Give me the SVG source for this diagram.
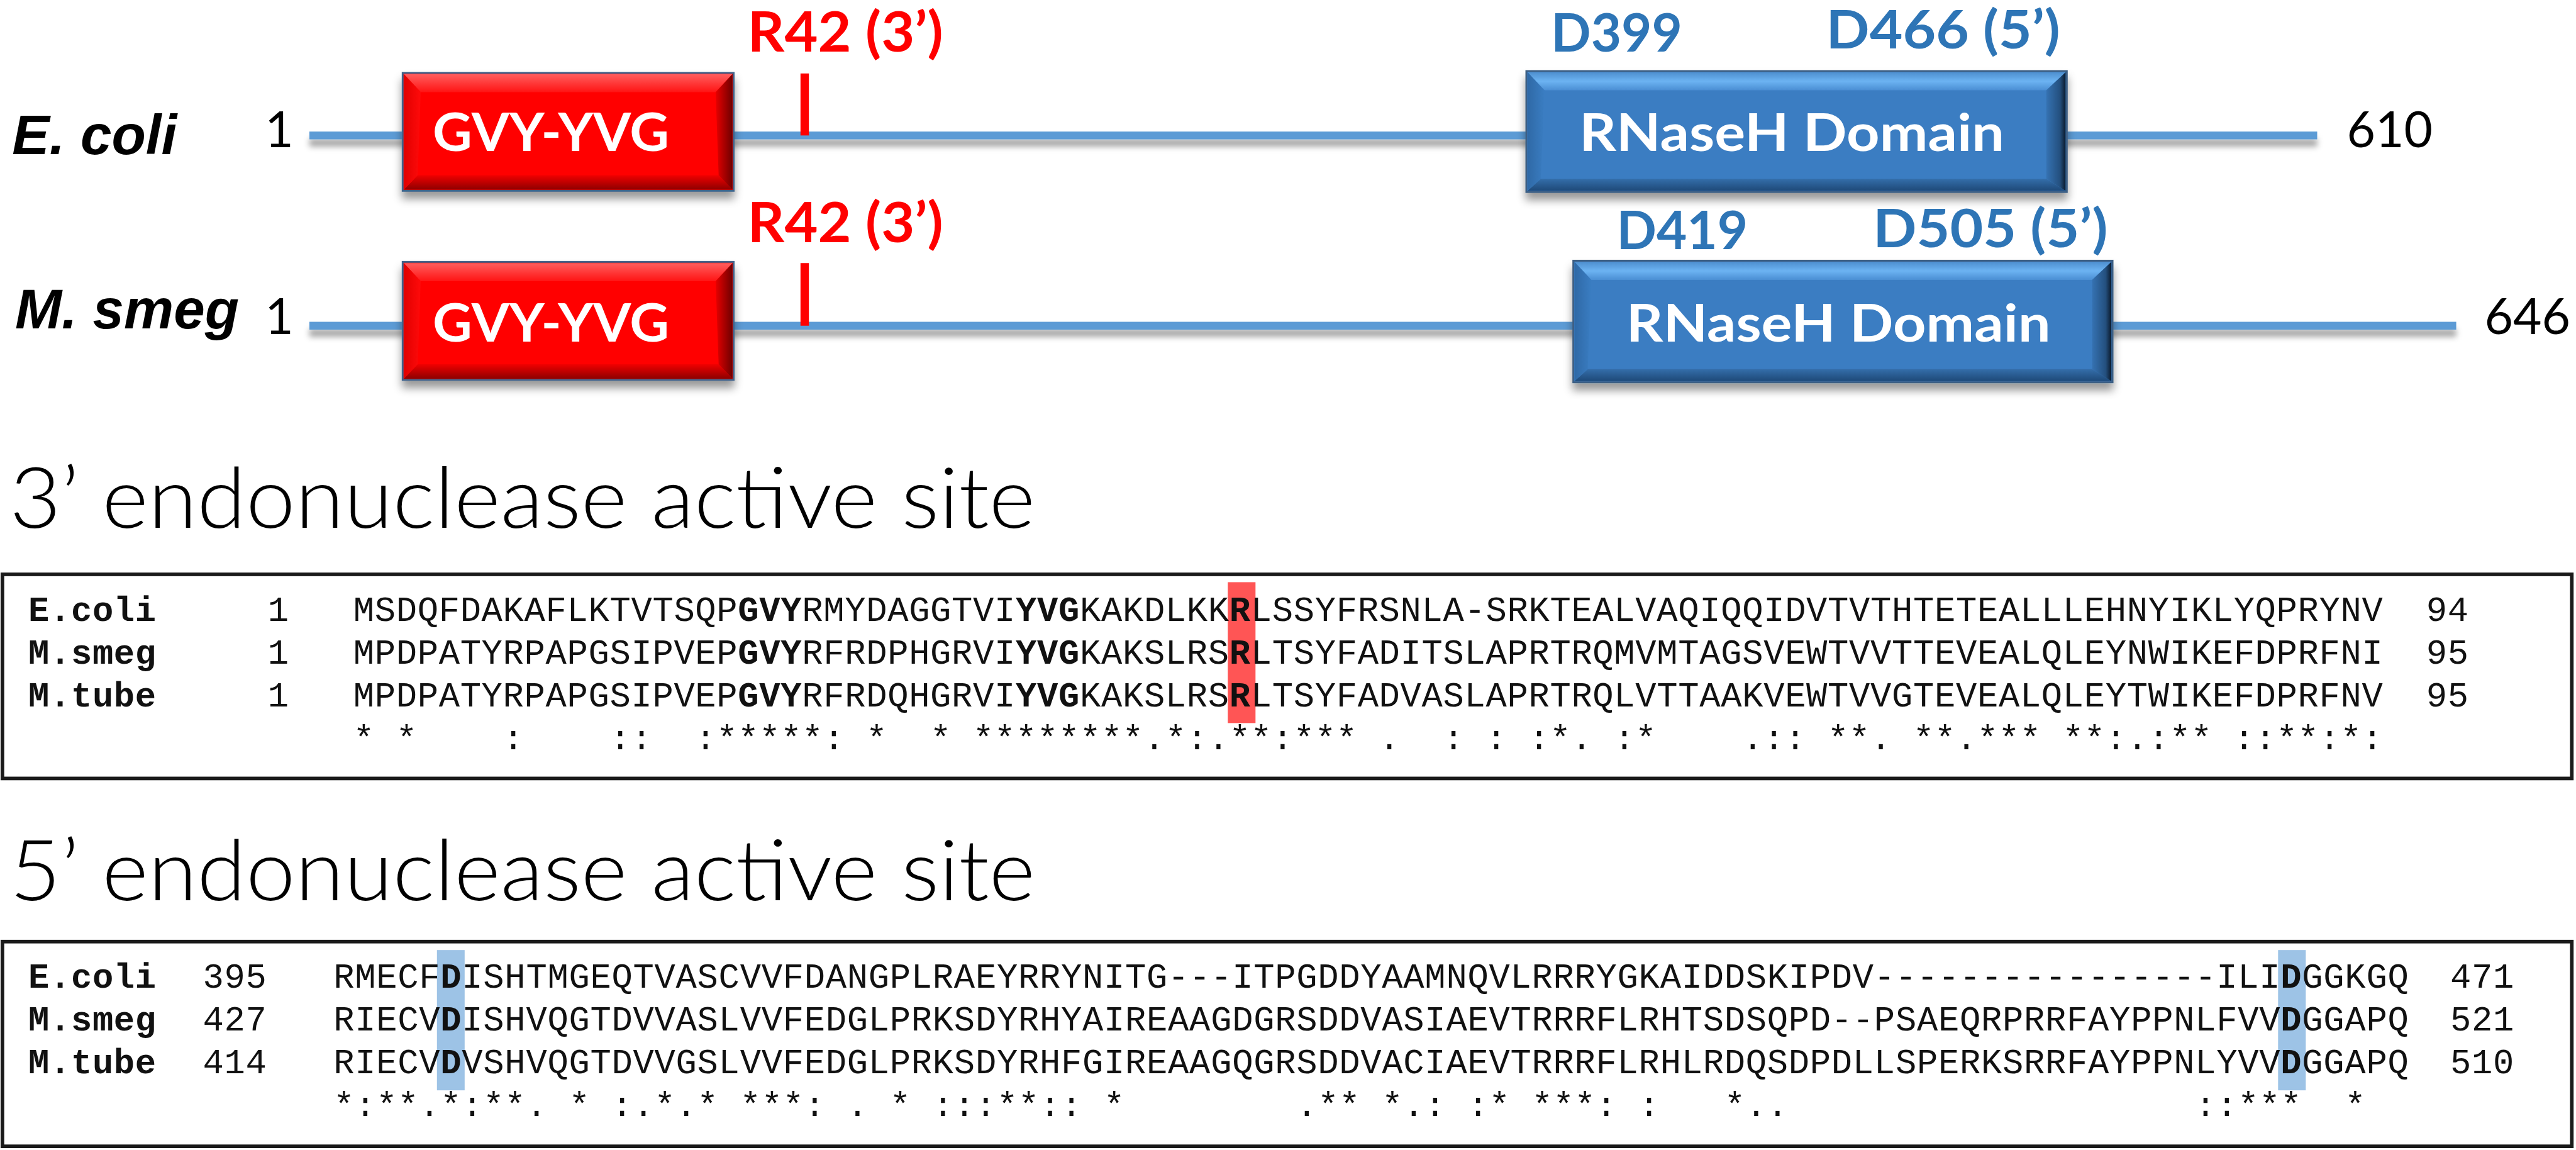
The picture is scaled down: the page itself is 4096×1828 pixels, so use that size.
<svg xmlns="http://www.w3.org/2000/svg" width="4096" height="1828" viewBox="0 0 4096 1828">
<defs>
<style>
.species{font-family:"Liberation Sans",Arial,sans-serif;font-weight:bold;font-style:italic;font-size:93px;fill:#000}
.num{font-family:Lato,"Open Sans",sans-serif;font-size:82px;fill:#000}
.boxlbl{font-family:Lato,"Open Sans",sans-serif;font-weight:bold;fill:#fff}
.red{font-family:Lato,"Open Sans",sans-serif;font-weight:bold;font-size:92px;fill:#FF0000}
.blue{font-family:Lato,"Open Sans",sans-serif;font-weight:bold;font-size:88px;fill:#2E75B6}
.head{font-family:Lato,"Open Sans",sans-serif;font-weight:300;font-size:140px;fill:#000}
.aln{font-family:"Liberation Mono","Courier New",monospace;font-size:58px;fill:#111;letter-spacing:0.7px;white-space:pre}
.aln5{letter-spacing:0.75px}
.b{font-weight:bold}
.frame{fill:#fff;stroke:#1a1a1a;stroke-width:6}
.backbone{fill:#5B9BD5}
.tick{fill:#FF0000}
</style>
<filter id="shadow" x="-10%" y="-20%" width="120%" height="160%">
<feDropShadow dx="0" dy="12" stdDeviation="7" flood-color="#000" flood-opacity="0.4"/>
</filter>
<filter id="lshadow" filterUnits="userSpaceOnUse" x="400" y="150" width="3800" height="500">
<feDropShadow dx="0" dy="12" stdDeviation="5" flood-color="#000" flood-opacity="0.35"/>
</filter>
<linearGradient id="rTop" x1="0" y1="0" x2="0" y2="1"><stop offset="0" stop-color="#FF5E5E"/><stop offset="1" stop-color="#FF1414"/></linearGradient>
<linearGradient id="rBot" x1="0" y1="0" x2="0" y2="1"><stop offset="0" stop-color="#F00000"/><stop offset="1" stop-color="#8E0000"/></linearGradient>
<linearGradient id="rRight" x1="0" y1="0" x2="1" y2="0"><stop offset="0" stop-color="#E80000"/><stop offset="1" stop-color="#6E0000"/></linearGradient>
<linearGradient id="rLeft" x1="0" y1="0" x2="1" y2="0"><stop offset="0" stop-color="#E00000"/><stop offset="1" stop-color="#FF0A0A"/></linearGradient>
<linearGradient id="bTop" x1="0" y1="0" x2="0" y2="1"><stop offset="0" stop-color="#4E8FCF"/><stop offset="0.5" stop-color="#6CB3F2"/><stop offset="1" stop-color="#4A8ED3"/></linearGradient>
<linearGradient id="bBot" x1="0" y1="0" x2="0" y2="1"><stop offset="0" stop-color="#346EAA"/><stop offset="1" stop-color="#1E4978"/></linearGradient>
<linearGradient id="bRight" x1="0" y1="0" x2="1" y2="0"><stop offset="0" stop-color="#3572B2"/><stop offset="0.7" stop-color="#24507F"/><stop offset="1" stop-color="#0B1A2C"/></linearGradient>
<linearGradient id="bLeft" x1="0" y1="0" x2="1" y2="0"><stop offset="0" stop-color="#2F69A6"/><stop offset="1" stop-color="#3A7DC2"/></linearGradient>
</defs>
<rect x="0" y="0" width="4096" height="1828" fill="#fff"/>
<g transform="scale(0.95701)">

<!-- backbones (connectors) -->
<g id="connectors" filter="url(#lshadow)">
<rect class="backbone" x="514" y="218.5" width="3336" height="13"/>
<rect class="backbone" x="514" y="534.5" width="3567" height="13"/>
</g>

<!-- E. coli track -->
<g id="ecoli-label">
<text class="species" x="20" y="256">E. coli</text>
<text class="num" x="464" y="244" text-anchor="middle">1</text>
<text class="num" x="3899" y="244" font-size="80">610</text>
</g>

<g id="ecoli-gvy">
<g filter="url(#shadow)">
<rect x="669" y="121" width="550" height="196" fill="#FF0000" stroke="#40638A" stroke-width="3"/>
</g>
<polygon points="671,123 1217,123 1189,153 699,153" fill="url(#rTop)"/>
<polygon points="671,315 1217,315 1194,291 694,291" fill="url(#rBot)"/>
<polygon points="1217,123 1217,315 1194,291 1189,153" fill="url(#rRight)"/>
<polygon points="671,123 671,315 694,291 699,153" fill="url(#rLeft)"/>
<text class="boxlbl" x="719" y="251" font-size="88" textLength="393" lengthAdjust="spacingAndGlyphs">GVY-YVG</text>
</g>

<g id="ecoli-r42">
<rect class="tick" x="1330" y="122" width="14" height="103"/>
<text class="red" x="1242" y="86" textLength="325" lengthAdjust="spacingAndGlyphs">R42 (3’)</text>
</g>

<g id="ecoli-rnaseh">
<g filter="url(#shadow)">
<rect x="2536" y="118" width="898" height="201" fill="#3A7DC2" stroke="#3E5F84" stroke-width="3"/>
</g>
<polygon points="2538,120 3432,120 3400,150 2566,150" fill="url(#bTop)"/>
<polygon points="2538,317 3432,317 3400,297 2560,297" fill="url(#bBot)"/>
<polygon points="3432,120 3432,317 3400,297 3400,150" fill="url(#bRight)"/>
<polygon points="2538,120 2538,317 2560,297 2566,150" fill="url(#bLeft)"/>
<text class="boxlbl" x="2624" y="251" font-size="86" textLength="706" lengthAdjust="spacingAndGlyphs">RNaseH Domain</text>
<text class="blue" x="2577" y="86" textLength="218" lengthAdjust="spacingAndGlyphs">D399</text>
<text class="blue" x="3034" y="80" textLength="389" lengthAdjust="spacingAndGlyphs">D466 (5’)</text>
</g>

<!-- M. smeg track -->
<g id="msmeg-label">
<text class="species" x="25" y="545">M. smeg</text>
<text class="num" x="464" y="555" text-anchor="middle">1</text>
<text class="num" x="4128" y="555" font-size="80">646</text>
</g>

<g id="msmeg-gvy">
<g filter="url(#shadow)">
<rect x="669" y="435" width="550" height="196" fill="#FF0000" stroke="#40638A" stroke-width="3"/>
</g>
<polygon points="671,437 1217,437 1189,467 699,467" fill="url(#rTop)"/>
<polygon points="671,629 1217,629 1194,605 694,605" fill="url(#rBot)"/>
<polygon points="1217,437 1217,629 1194,605 1189,467" fill="url(#rRight)"/>
<polygon points="671,437 671,629 694,605 699,467" fill="url(#rLeft)"/>
<text class="boxlbl" x="719" y="567" font-size="88" textLength="393" lengthAdjust="spacingAndGlyphs">GVY-YVG</text>
</g>

<g id="msmeg-r42">
<rect class="tick" x="1330" y="437" width="14" height="104"/>
<text class="red" x="1242" y="402" textLength="325" lengthAdjust="spacingAndGlyphs">R42 (3’)</text>
</g>

<g id="msmeg-rnaseh">
<g filter="url(#shadow)">
<rect x="2614" y="433" width="896" height="202" fill="#3A7DC2" stroke="#3E5F84" stroke-width="3"/>
</g>
<polygon points="2616,435 3508,435 3476,465 2644,465" fill="url(#bTop)"/>
<polygon points="2616,633 3508,633 3476,613 2638,613" fill="url(#bBot)"/>
<polygon points="3508,435 3508,633 3476,613 3476,465" fill="url(#bRight)"/>
<polygon points="2616,435 2616,633 2638,613 2644,465" fill="url(#bLeft)"/>
<text class="boxlbl" x="2702" y="567" font-size="86" textLength="705" lengthAdjust="spacingAndGlyphs">RNaseH Domain</text>
<text class="blue" x="2686" y="414" textLength="218" lengthAdjust="spacingAndGlyphs">D419</text>
<text class="blue" x="3112" y="411" textLength="390" lengthAdjust="spacingAndGlyphs">D505 (5’)</text>
</g>

<!-- 3' alignment -->
<g id="heading-3">
<text class="head" x="16" y="877" textLength="1704" lengthAdjust="spacingAndGlyphs">3’ endonuclease active site</text>
</g>
<g id="alignment-3">
<rect class="frame" x="4" y="954" width="4269" height="339"/>
<rect x="2040" y="967" width="46" height="234" fill="#FF5555"/>
<text class="aln b" x="47" y="1031">E.coli</text>
<text class="aln b" x="47" y="1102">M.smeg</text>
<text class="aln b" x="47" y="1173">M.tube</text>
<text class="aln" x="445" y="1031">1</text>
<text class="aln" x="445" y="1102">1</text>
<text class="aln" x="445" y="1173">1</text>
<text class="aln" x="587" y="1031">MSDQFDAKAFLKTVTSQP<tspan class="b">GVY</tspan>RMYDAGGTVI<tspan class="b">YVG</tspan>KAKDLKK<tspan class="b">R</tspan>LSSYFRSNLA-SRKTEALVAQIQQIDVTVTHTETEALLLEHNYIKLYQPRYNV</text>
<text class="aln" x="587" y="1102">MPDPATYRPAPGSIPVEP<tspan class="b">GVY</tspan>RFRDPHGRVI<tspan class="b">YVG</tspan>KAKSLRS<tspan class="b">R</tspan>LTSYFADITSLAPRTRQMVMTAGSVEWTVVTTEVEALQLEYNWIKEFDPRFNI</text>
<text class="aln" x="587" y="1173">MPDPATYRPAPGSIPVEP<tspan class="b">GVY</tspan>RFRDQHGRVI<tspan class="b">YVG</tspan>KAKSLRS<tspan class="b">R</tspan>LTSYFADVASLAPRTRQLVTTAAKVEWTVVGTEVEALQLEYTWIKEFDPRFNV</text>
<text class="aln" x="587" y="1244" xml:space="preserve">* *    :    ::  :*****: *  * ********.*:.**:*** .  : : :*. :*    .:: **. **.*** **:.:** ::**:*:</text>
<text class="aln" x="4031" y="1031">94</text>
<text class="aln" x="4031" y="1102">95</text>
<text class="aln" x="4031" y="1173">95</text>
</g>

<!-- 5' alignment -->
<g id="heading-5">
<text class="head" x="16" y="1495" textLength="1704" lengthAdjust="spacingAndGlyphs">5’ endonuclease active site</text>
</g>
<g id="alignment-5">
<rect class="frame" x="4" y="1564" width="4269" height="340"/>
<rect x="726" y="1578" width="46" height="233" fill="#9DC3E6"/>
<rect x="3785" y="1578" width="46" height="233" fill="#9DC3E6"/>
<text class="aln b" x="47" y="1641">E.coli</text>
<text class="aln b" x="47" y="1712">M.smeg</text>
<text class="aln b" x="47" y="1783">M.tube</text>
<text class="aln" x="337" y="1641">395</text>
<text class="aln" x="337" y="1712">427</text>
<text class="aln" x="337" y="1783">414</text>
<text class="aln aln5" x="554" y="1641">RMECF<tspan class="b">D</tspan>ISHTMGEQTVASCVVFDANGPLRAEYRRYNITG---ITPGDDYAAMNQVLRRRYGKAIDDSKIPDV----------------ILI<tspan class="b">D</tspan>GGKGQ</text>
<text class="aln aln5" x="554" y="1712">RIECV<tspan class="b">D</tspan>ISHVQGTDVVASLVVFEDGLPRKSDYRHYAIREAAGDGRSDDVASIAEVTRRRFLRHTSDSQPD--PSAEQRPRRFAYPPNLFVV<tspan class="b">D</tspan>GGAPQ</text>
<text class="aln aln5" x="554" y="1783">RIECV<tspan class="b">D</tspan>VSHVQGTDVVGSLVVFEDGLPRKSDYRHFGIREAAGQGRSDDVACIAEVTRRRFLRHLRDQSDPDLLSPERKSRRFAYPPNLYVV<tspan class="b">D</tspan>GGAPQ</text>
<text class="aln aln5" x="554" y="1854" xml:space="preserve">*:**.*:**. * :.*.* ***: . * :::**:: *        .** *.: :* ***: :   *..                   ::***  *</text>
<text class="aln" x="4071" y="1641">471</text>
<text class="aln" x="4071" y="1712">521</text>
<text class="aln" x="4071" y="1783">510</text>
</g>

</g>
</svg>
